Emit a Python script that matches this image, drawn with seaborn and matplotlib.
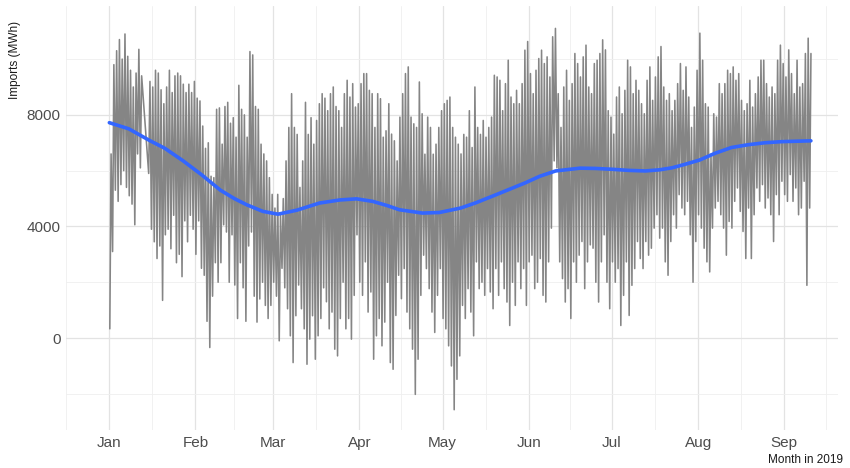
import pandas as pd
import matplotlib
matplotlib.use("Agg")
import matplotlib.pyplot as plt
import seaborn as sns

# Daily troughs and peaks of hourly imports (MWh), 2019
jan_lo = [330, 3100, 5300, 4900, 5500, 6000, 5400, 5100, 4800, 4060, 6600, 6100,
          5900, 3900, 3450, 2850, 3300, 1350, 3700, 3900, 3200, 4400, 2700, 3000,
          2200, 4200, 3450, 4400, 3900]
jan_hi = [6600, 9800, 10300, 10700, 10000, 10900, 10100, 9600, 9000, 9500, 10350, 9400,
          9200, 9000, 9600, 9500, 8900, 8400, 9000, 9600, 8800, 9400, 9500, 9400,
          9100, 8800, 9100, 8800, 9200]
feb_lo = [3000, 4200, 2500, 2250, 600, -340, 1500, 2700, 2000, 2700, 4060, 3800,
          2000, 3700, 1900, 700, 2700, 1800, 600, 3300, 3800, 1500, 570, 1400,
          2000, 1170, 700, 1170]
feb_hi = [8600, 8500, 7600, 6800, 7000, 5800, 5750, 8200, 8250, 6950, 8300, 8450,
          7700, 7900, 7200, 9060, 8200, 8000, 7200, 10270, 10150, 8300, 8200, 6950,
          6600, 6350, 5750, 5150]
mar_lo = [2000, 1500, -100, 2500, 1800, 1050, 80, -880, 800, 1900, 1050, 330,
          -940, -40, 800, -760, 80, 700, 1800, 1300, 330, 930, -400, -640,
          700, 2000, 330, 700, -40, 1530, 3700]
mar_hi = [4660, 5150, 4420, 5000, 6350, 7550, 8760, 7550, 7300, 5400, 6350, 8450,
          7300, 7900, 6950, 7800, 8400, 8760, 8600, 8150, 8760, 9000, 8300, 8150,
          7550, 8760, 9240, 8640, 9120, 8280, 8400]
apr_lo = [2000, 1530, 2730, 930, 1650, -760, 80, 700, -280, 570, 2000, -880,
          -1120, 810, 2250, 1410, 2490, 930, 330, -400, -2020, -760, 1530, 2970,
          2490, 1770, 930, 200, 1530, 2490]
apr_hi = [9120, 9480, 9480, 8880, 8760, 7550, 8760, 8580, 7200, 7430, 8400, 7310,
          7070, 6350, 7920, 8760, 9480, 9720, 7920, 7680, 7550, 9180, 8040, 6590,
          7920, 7550, 6590, 6950, 7550, 8150]
may_lo = [700, 330, -280, -1000, -2570, -1480, -640, 1170, 700, 1770, 930, 80,
          2730, 1770, 2000, 1530, 2490, 1650, 1050, 2490, 1530, 2730, 1770, 1290,
          450, 2000, 1170, 2730, 1770, 2490, 1170]
may_hi = [8400, 8520, 8640, 7550, 7200, 6950, 6600, 7300, 7200, 8150, 6830, 9000,
          7550, 7300, 7800, 7200, 7550, 7920, 9420, 9360, 9240, 8150, 9120, 9960,
          8640, 8400, 8880, 8400, 9120, 10320, 10630]
jun_lo = [2730, 2970, 1770, 2000, 2850, 1530, 1290, 2730, 3940, 6350, 6100, 2730,
          2130, 1290, 1770, 700, 2730, 2000, 2970, 3460, 1770, 2730, 3340, 3220,
          2000, 1290, 2730, 3700, 2000, 1050]
jun_hi = [9480, 8760, 9600, 10020, 10320, 9840, 10080, 9360, 10800, 11100, 8760, 7550,
          9000, 9600, 8520, 9120, 10200, 9840, 9360, 10080, 10500, 9000, 8760, 9840,
          9960, 10200, 10690, 10330, 8150, 7920]
jul_lo = [2730, 2000, 2490, 450, 1530, 2730, 810, 1890, 2490, 3460, 2850, 2490,
          3460, 2970, 3220, 3940, 4420, 3580, 3940, 2730, 2250, 3460, 4420, 3940,
          5140, 4660, 4420, 4900, 3700, 2000, 3460]
jul_hi = [7310, 8640, 9000, 8040, 8880, 9960, 9720, 8760, 9240, 8880, 8400, 8040,
          9240, 9720, 8520, 9360, 10080, 10450, 9000, 8520, 8760, 8150, 8520, 9120,
          9840, 8880, 9720, 8640, 7550, 8280, 9600]
aug_lo = [4420, 3940, 3220, 2730, 2370, 3940, 4660, 4900, 4420, 3940, 2970, 4180,
          3940, 4900, 5380, 4540, 3820, 2850, 4660, 2850, 4420, 5380, 4900, 5500,
          4660, 5020, 4420, 3460, 5140, 4420, 5620]
aug_hi = [10930, 9960, 8400, 8280, 6590, 8040, 7920, 9120, 8760, 9120, 9600, 9480,
          9720, 9240, 9480, 8520, 8150, 8400, 9240, 8280, 8760, 9360, 9960, 9960,
          9120, 8640, 9000, 8760, 9960, 10500, 9840]
sep_lo = [5140, 4900, 5860, 4900, 5380, 4420, 4660, 5620, 1890, 4660]
sep_hi = [9360, 10330, 9480, 8760, 9960, 9000, 9120, 10200, 10750, 10200]

# Days without records
missing_days = ["2019-01-13", "2019-01-14"]

# Smoothed trend (day of year offset, MWh)
smooth_day = [0, 7, 14.7, 20, 26.6, 33, 40, 45, 49.4, 55.3, 60.7, 67.4, 75.7, 83,
              89, 94.8, 100, 104.4, 112.7, 118.8, 126.5, 132, 137.8, 144, 149.9,
              155, 160.7, 169.5, 175, 181, 187, 193, 198, 202.5, 207, 212.5, 218,
              224, 230, 236, 242, 252.6]
smooth_mwh = [7720, 7500, 7070, 6800, 6350, 5870, 5300, 5000, 4780, 4540, 4440,
              4580, 4840, 4950, 4990, 4900, 4750, 4600, 4480, 4500, 4660, 4850,
              5080, 5330, 5570, 5800, 5990, 6090, 6080, 6050, 6010, 5990, 6030,
              6100, 6220, 6380, 6620, 6830, 6930, 7000, 7040, 7070]

month_labels = ["Jan", "Feb", "Mar", "Apr", "May", "Jun", "Jul", "Aug", "Sep"]
y_major = [0, 4000, 8000]
y_minor = [-2000, 2000, 6000, 10000]

lo = jan_lo + feb_lo + mar_lo + apr_lo + may_lo + jun_lo + jul_lo + aug_lo + sep_lo
hi = jan_hi + feb_hi + mar_hi + apr_hi + may_hi + jun_hi + jul_hi + aug_hi + sep_hi

days = pd.date_range("2019-01-01", "2019-09-10", freq="D")
days = days[~days.isin(pd.to_datetime(missing_days))]

times, values = [], []
for d, l, h in zip(days, lo, hi):
    times += [d + pd.Timedelta(hours=4), d + pd.Timedelta(hours=15)]
    values += [l, h]
hourly = pd.DataFrame({"time": times, "imports": values})

start = pd.Timestamp("2019-01-01")
trend = pd.DataFrame({
    "time": start + pd.to_timedelta(smooth_day, unit="D"),
    "imports": smooth_mwh,
})

sns.set_style("white")
plt.rcParams["font.family"] = ["Liberation Sans", "DejaVu Sans"]

fig = plt.figure(figsize=(8.5, 4.68), dpi=100)
ax = fig.add_axes([0.078, 0.081, 0.908, 0.906])

sns.lineplot(data=hourly, x="time", y="imports", ax=ax, color="#858585",
             lw=1.15, estimator=None, sort=False)
sns.lineplot(data=trend, x="time", y="imports", ax=ax, color="#3366FF",
             lw=2.6, estimator=None, sort=False)

ax.set_xlim(start - pd.Timedelta(days=14.7), start + pd.Timedelta(days=262.4))
ax.set_ylim(-3300, 11900)

month_starts = pd.date_range("2019-01-01", periods=len(month_labels), freq="MS")
edges = pd.date_range("2018-12-01", periods=len(month_labels) + 2, freq="MS")
mid_month = [a + (b - a) / 2 for a, b in zip(edges[:-1], edges[1:])]
ax.set_xticks(month_starts)
ax.set_xticklabels(month_labels)
ax.set_xticks(mid_month, minor=True)
ax.set_yticks(y_major)
ax.set_yticklabels([str(v) for v in y_major])
ax.set_yticks(y_minor, minor=True)

ax.grid(which="major", color="#e3e3e3", lw=0.9)
ax.grid(which="minor", color="#efefef", lw=0.6)
ax.set_axisbelow(True)
for s in ax.spines.values():
    s.set_visible(False)
ax.tick_params(which="both", length=0)
ax.tick_params(axis="both", labelsize=11, labelcolor="#4d4d4d", pad=4)

ax.set_xlabel("")
ax.set_ylabel("")
fig.text(0.018, 0.955, "Imports (MWh)", rotation=90, ha="center", va="top",
         fontsize=8.5, color="#1a1a1a")
fig.text(0.992, 0.004, "Month in 2019", ha="right", va="bottom",
         fontsize=8.5, color="#1a1a1a")

fig.savefig("out.png", dpi=100)
